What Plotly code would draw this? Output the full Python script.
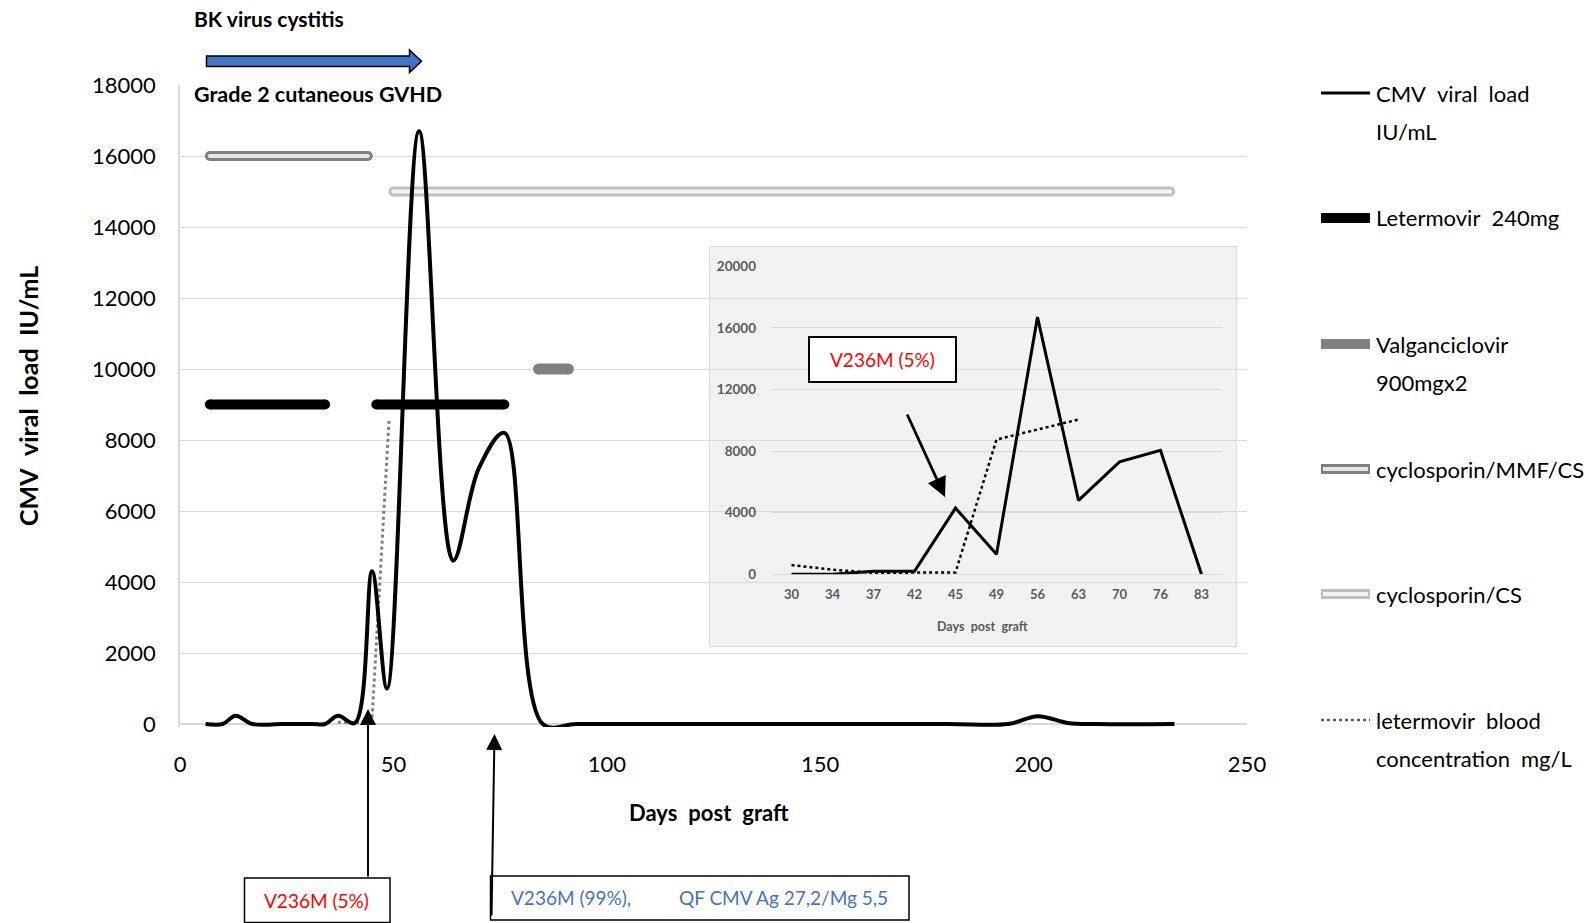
import plotly.graph_objects as go

# ---------------- data ----------------
# CMV viral load (IU/mL) over days post graft
cmv_days = [6, 10, 13, 17, 24, 31, 34, 37, 41, 45, 48.5, 56, 64, 70, 76, 85, 93,
            120, 150, 180, 194, 201, 208, 215, 233]
cmv_load = [0, 0, 230, 0, 0, 0, 0, 230, 30, 4300, 1000, 16700, 4600, 7200, 8200, 0, 0,
            0, 0, 0, 0, 220, 30, 0, 0]

# letermovir blood concentration (drawn on the same scale)
blood_days = [37, 42, 45, 49]
blood_conc = [50, 40, 150, 8600]

# treatment periods (start day, end day) and the level at which each bar sits
letermovir_start = [7, 46]
letermovir_end = [34, 76]
letermovir_level = 9000
valganciclovir_start = [84]
valganciclovir_end = [91]
valganciclovir_level = 10000
cyclo_mmf_start = [7]
cyclo_mmf_end = [44]
cyclo_mmf_level = 16000
cyclo_cs_start = [50]
cyclo_cs_end = [232]
cyclo_cs_level = 15000

# inset: sampled days 30..83
inset_days = ["30", "34", "37", "42", "45", "49", "56", "63", "70", "76", "83"]
inset_cmv = [0, 0, 200, 200, 4300, 1300, 16700, 4800, 7300, 8050, 0]
inset_blood = [600, 300, 100, 100, 120, 8750, 9400, 10050, None, None, None]

main_xticks = [0, 50, 100, 150, 200, 250]
inset_yticks = [0, 4000, 8000, 12000, 16000, 20000]

SP = "\u2002"  # wide word gap used in the labels

# ---------------- layout geometry (pixels) ----------------
W, H = 1589, 923
PL, PR, PT, PB = 180, 1247, 85, 727
Y0 = 724                     # pixel row of value 0
YMAX = 18000
YMIN = -(PB - Y0) / (Y0 - PT) * YMAX

X2L, X2R = 771, 1222         # inset plot area
Y2B, Y2T = 574.3, 266.3


def px(x):
    return (x - PL) / (PR - PL)


def py(y):
    return (PB - y) / (PB - PT)


FONT = "Lato"
GRID = "#d9d9d9"

fig = go.Figure()

# cyclosporin/CS : light double bar
for s, e in zip(cyclo_cs_start, cyclo_cs_end):
    fig.add_trace(go.Scatter(x=[s, e], y=[cyclo_cs_level] * 2, mode="lines+markers",
                             line=dict(color="#bfbfbf", width=10),
                             marker=dict(color="#bfbfbf", size=10), hoverinfo="skip"))
    fig.add_trace(go.Scatter(x=[s, e], y=[cyclo_cs_level] * 2, mode="lines+markers",
                             line=dict(color="#f4f4f4", width=4),
                             marker=dict(color="#f4f4f4", size=4), hoverinfo="skip"))

# cyclosporin/MMF/CS : darker double bar
for s, e in zip(cyclo_mmf_start, cyclo_mmf_end):
    fig.add_trace(go.Scatter(x=[s, e], y=[cyclo_mmf_level] * 2, mode="lines+markers",
                             line=dict(color="#808080", width=10),
                             marker=dict(color="#808080", size=10), hoverinfo="skip"))
    fig.add_trace(go.Scatter(x=[s, e], y=[cyclo_mmf_level] * 2, mode="lines+markers",
                             line=dict(color="#e6e6e6", width=4),
                             marker=dict(color="#e6e6e6", size=4), hoverinfo="skip"))

# valganciclovir
for s, e in zip(valganciclovir_start, valganciclovir_end):
    fig.add_trace(go.Scatter(x=[s, e], y=[valganciclovir_level] * 2, mode="lines+markers",
                             line=dict(color="#808080", width=11),
                             marker=dict(color="#808080", size=11), hoverinfo="skip"))

# letermovir
for s, e in zip(letermovir_start, letermovir_end):
    fig.add_trace(go.Scatter(x=[s, e], y=[letermovir_level] * 2, mode="lines+markers",
                             line=dict(color="#000000", width=10),
                             marker=dict(color="#000000", size=10), hoverinfo="skip"))

# letermovir blood concentration
fig.add_trace(go.Scatter(x=blood_days, y=blood_conc, mode="lines",
                         line=dict(color="#7f7f7f", width=3, dash="dot")))

# CMV viral load, smoothed
fig.add_trace(go.Scatter(x=cmv_days, y=cmv_load, mode="lines",
                         line=dict(color="#000000", width=4, shape="spline", smoothing=1.0)))

# inset traces
fig.add_trace(go.Scatter(x=inset_days, y=inset_cmv, mode="lines", xaxis="x2", yaxis="y2",
                         line=dict(color="#000000", width=3)))
fig.add_trace(go.Scatter(x=inset_days, y=inset_blood, mode="lines", xaxis="x2", yaxis="y2",
                         line=dict(color="#000000", width=2.5, dash="dot")))

shapes = []
annotations = []

# inset background panel (sits under the inset grid)
shapes.append(dict(type="rect", layer="below", xref="x2 domain", yref="y2 domain",
                   x0=(709.5 - X2L) / (X2R - X2L), x1=(1236.5 - X2L) / (X2R - X2L),
                   y0=(Y2B - 646.5) / (Y2B - Y2T), y1=(Y2B - 246.5) / (Y2B - Y2T),
                   fillcolor="#f2f2f2", line=dict(color="#d9d9d9", width=1)))

# BK virus cystitis arrow
ax0, ax1, axh = 206.5, 409.5, 421.5
b0, b1, h0, h1, mid = 56, 66.5, 50, 72.5, 61.2
path = (f"M {px(ax0)} {py(b0)} L {px(ax1)} {py(b0)} L {px(ax1)} {py(h0)} "
        f"L {px(axh)} {py(mid)} L {px(ax1)} {py(h1)} L {px(ax1)} {py(b1)} "
        f"L {px(ax0)} {py(b1)} Z")
shapes.append(dict(type="path", xref="paper", yref="paper", path=path,
                   fillcolor="#4472c4", line=dict(color="#000000", width=1.5)))

annotations.append(dict(xref="paper", yref="paper", x=px(192), y=py(18.5),
                        xanchor="left", yanchor="middle", showarrow=False,
                        text="<b>BK virus cystitis</b>",
                        font=dict(family=FONT, size=21, color="#000")))
annotations.append(dict(xref="paper", yref="paper", x=px(192), y=py(94),
                        xanchor="left", yanchor="middle", showarrow=False,
                        text="<b>Grade 2 cutaneous GVHD</b>",
                        font=dict(family=FONT, size=21.5, color="#000")))

# axis titles
annotations.append(dict(xref="paper", yref="paper", x=px(28), y=py(396),
                        xanchor="center", yanchor="middle", showarrow=False, textangle=-90,
                        text=f"<b>CMV{SP}viral{SP}load{SP}IU/mL</b>",
                        font=dict(family=FONT, size=25, color="#000")))
annotations.append(dict(xref="paper", yref="paper", x=px(709), y=py(813),
                        xanchor="center", yanchor="middle", showarrow=False,
                        text=f"<b>Days{SP}post{SP}graft</b>",
                        font=dict(family=FONT, size=22, color="#000")))

# inset axis title
annotations.append(dict(xref="paper", yref="paper", x=px(982), y=py(626),
                        xanchor="center", yanchor="middle", showarrow=False,
                        text=f"<b>Days{SP}post{SP}graft</b>",
                        font=dict(family=FONT, size=12.5, color="#595959")))

# inset mutation box + arrow
shapes.append(dict(type="rect", xref="paper", yref="paper",
                   x0=px(809), x1=px(956), y0=py(382), y1=py(337),
                   fillcolor="#ffffff", line=dict(color="#000000", width=2)))
annotations.append(dict(xref="paper", yref="paper", x=px(882.5), y=py(359.5),
                        xanchor="center", yanchor="middle", showarrow=False,
                        text="V236M (5%)", font=dict(family=FONT, size=19, color="#ff0000")))
annotations.append(dict(xref="paper", yref="paper", x=px(945), y=py(497),
                        text="", showarrow=True, arrowhead=2, arrowsize=1.4, arrowwidth=2.8,
                        arrowcolor="#000", ax=906.5 - 945, ay=413 - 497, standoff=0))

# bottom mutation boxes + arrows
shapes.append(dict(type="rect", xref="paper", yref="paper",
                   x0=px(244.5), x1=px(390), y0=py(922.5), y1=py(878),
                   fillcolor="#ffffff", line=dict(color="#000000", width=1.5)))
annotations.append(dict(xref="paper", yref="paper", x=px(316.5), y=py(900.5),
                        xanchor="center", yanchor="middle", showarrow=False,
                        text="V236M (5%)", font=dict(family=FONT, size=19, color="#ff0000")))
shapes.append(dict(type="rect", xref="paper", yref="paper",
                   x0=px(490.5), x1=px(909), y0=py(920), y1=py(876),
                   fillcolor="#ffffff", line=dict(color="#000000", width=1.5)))
annotations.append(dict(xref="paper", yref="paper", x=px(508.5), y=py(898),
                        xanchor="left", yanchor="middle", showarrow=False,
                        text="V236M (99%),", font=dict(family=FONT, size=19, color="#4472c4")))
annotations.append(dict(xref="paper", yref="paper", x=px(677), y=py(898),
                        xanchor="left", yanchor="middle", showarrow=False,
                        text="QF CMV Ag 27,2/Mg 5,5",
                        font=dict(family=FONT, size=19, color="#4472c4")))
annotations.append(dict(xref="paper", yref="paper", x=px(368), y=py(709),
                        text="", showarrow=True, arrowhead=2, arrowsize=1.6, arrowwidth=2,
                        arrowcolor="#000", ax=0, ay=878 - 709, standoff=0))
annotations.append(dict(xref="paper", yref="paper", x=px(494.5), y=py(734),
                        text="", showarrow=True, arrowhead=2, arrowsize=1.6, arrowwidth=2,
                        arrowcolor="#000", ax=-3, ay=917 - 734, standoff=0))

# legend (drawn manually on the right)
LX0, LX1, LT = 1321, 1370, 1374
legend_items = [
    (93, dict(color="#000000", width=3), None, [f"CMV{SP}viral{SP}load", "IU/mL"]),
    (218, dict(color="#000000", width=10), None, [f"Letermovir{SP}240mg"]),
    (344, dict(color="#808080", width=10), None, ["Valganciclovir", "900mgx2"]),
    (469, dict(color="#808080", width=10), dict(color="#e6e6e6", width=4),
     ["cyclosporin/MMF/CS"]),
    (594, dict(color="#bfbfbf", width=10), dict(color="#f4f4f4", width=4),
     ["cyclosporin/CS"]),
    (720, dict(color="#595959", width=2.5, dash="dot"), None,
     [f"letermovir{SP}blood", f"concentration{SP}mg/L"]),
]
for yy, outer, inner, labels in legend_items:
    shapes.append(dict(type="line", xref="paper", yref="paper",
                       x0=px(LX0), x1=px(LX1), y0=py(yy), y1=py(yy), line=outer))
    if inner:
        shapes.append(dict(type="line", xref="paper", yref="paper",
                           x0=px(LX0 + 2), x1=px(LX1 - 2), y0=py(yy), y1=py(yy), line=inner))
    for i, lab in enumerate(labels):
        annotations.append(dict(xref="paper", yref="paper", x=px(LT), y=py(yy + 38 * i),
                                xanchor="left", yanchor="middle", showarrow=False, text=lab,
                                font=dict(family=FONT, size=22, color="#000")))

fig.update_layout(
    width=W, height=H,
    margin=dict(l=PL, r=W - PR, t=PT, b=H - PB, pad=0),
    paper_bgcolor="#ffffff", plot_bgcolor="rgba(0,0,0,0)",
    showlegend=False,
    font=dict(family=FONT, color="#000"),
    xaxis=dict(range=[0, 250], tickvals=main_xticks, showgrid=False, zeroline=False,
               showline=False, ticks="", tickfont=dict(family=FONT, size=22, color="#000"),
               ticklabelstandoff=22, fixedrange=True),
    yaxis=dict(range=[YMIN, YMAX], tick0=0, dtick=2000, tickformat="d", showgrid=True,
               gridcolor=GRID, gridwidth=1.3, zeroline=True, zerolinecolor=GRID,
               zerolinewidth=1.5, showline=True, linecolor=GRID, linewidth=1.5, ticks="",
               tickfont=dict(family=FONT, size=22, color="#000"),
               ticklabelstandoff=18, fixedrange=True),
    xaxis2=dict(domain=[px(X2L), px(X2R)], anchor="y2", type="category",
                categoryorder="array", categoryarray=inset_days, range=[-0.5, 10.5],
                showgrid=False, zeroline=False, showline=False, ticks="",
                tickfont=dict(family=FONT, size=13, color="#595959", weight="bold"),
                ticklabelstandoff=11, fixedrange=True),
    yaxis2=dict(domain=[py(Y2B), py(Y2T)], anchor="x2", range=[0, 20000],
                tickvals=inset_yticks, tickformat="d", showgrid=True, gridcolor=GRID,
                gridwidth=1.2, zeroline=True, zerolinecolor=GRID, zerolinewidth=1.2,
                showline=False, ticks="",
                tickfont=dict(family=FONT, size=13.5, color="#595959", weight="bold"),
                ticklabelstandoff=14, fixedrange=True),
    shapes=shapes,
    annotations=annotations,
)

fig.write_html("out.html")
